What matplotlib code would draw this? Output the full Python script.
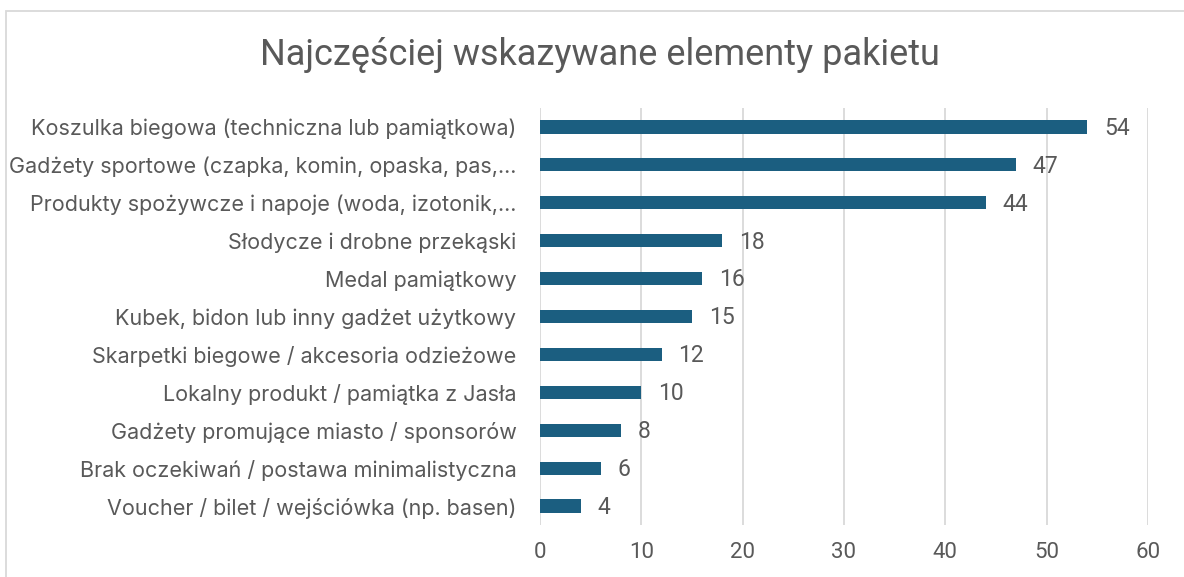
import matplotlib
matplotlib.use("Agg")
from matplotlib import pyplot as plt
from matplotlib.patches import Rectangle

# data (top to bottom)
categories = [
    "Koszulka biegowa (techniczna lub pamiątkowa)",
    "Gadżety sportowe (czapka, komin, opaska, pas,...",
    "Produkty spożywcze i napoje (woda, izotonik,...",
    "Słodycze i drobne przekąski",
    "Medal pamiątkowy",
    "Kubek, bidon lub inny gadżet użytkowy",
    "Skarpetki biegowe / akcesoria odzieżowe",
    "Lokalny produkt / pamiątka z Jasła",
    "Gadżety promujące miasto / sponsorów",
    "Brak oczekiwań / postawa minimalistyczna",
    "Voucher / bilet / wejściówka (np. basen)",
]
counts = [54, 47, 44, 18, 16, 15, 12, 10, 8, 6, 4]
xticks = [0, 10, 20, 30, 40, 50, 60]

title = "Najczęściej wskazywane elementy pakietu"
bar_color = "#1B5E80"
text_color = "#595959"
grid_color = "#D9D9D9"

fig = plt.figure(figsize=(11.84, 5.77), dpi=100)
ax = fig.add_axes([540 / 1184, 1 - 525 / 577, 608 / 1184, 417 / 577])

ypos = list(range(len(categories)))
ax.barh(ypos, counts, height=0.35, color=bar_color, zorder=3)
ax.set_ylim(len(categories) - 0.5, -0.5)
ax.set_xlim(0, 60)
ax.set_xticks(xticks)
ax.set_xticklabels([str(t) for t in xticks], family=["Roboto", "DejaVu Sans"],
                   fontsize=16, color=text_color)
ax.set_yticks(ypos)
ax.set_yticklabels(categories, family=["Inter", "DejaVu Sans"], fontsize=15.5,
                   color=text_color)
ax.tick_params(axis="both", length=0)
ax.tick_params(axis="x", pad=12)
ax.tick_params(axis="y", pad=17)

ax.grid(axis="x", color=grid_color, linewidth=1.3, zorder=0)
for s in ax.spines.values():
    s.set_visible(False)

for y, v in zip(ypos, counts):
    ax.annotate(str(v), (v, y), xytext=(12, -1), textcoords="offset points",
                va="center", ha="left", fontsize=16.5, color=text_color,
                family=["Roboto", "DejaVu Sans"])

fig.text(600 / 1184, 1 - 55 / 577, title, ha="center", va="center",
         fontsize=26, color=text_color, family=["Roboto", "DejaVu Sans"])

# light frame around the chart area (right and bottom run off the image)
fig.patches.append(Rectangle((6 / 1184, -0.05), 1.2, 1 - 11 / 577 + 0.05,
                             transform=fig.transFigure, fill=False,
                             edgecolor="#D9D9D9", linewidth=1.3))

fig.savefig("out.png", dpi=100, facecolor="white")
